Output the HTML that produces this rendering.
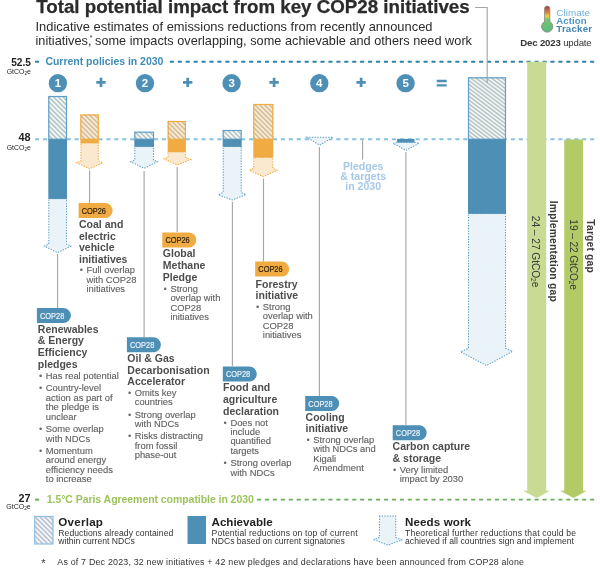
<!DOCTYPE html>
<html lang="en"><head><meta charset="utf-8"><title>Total potential impact from key COP28 initiatives</title>
<style>html,body{margin:0;padding:0;background:#fff}svg{display:block}text{font-family:'Liberation Sans', sans-serif}</style></head><body>
<svg width="600" height="570" viewBox="0 0 600 570">
<defs>
<linearGradient id="thermo" x1="0" y1="0" x2="0" y2="1"><stop offset="0.04" stop-color="#ad463d"/><stop offset="0.22" stop-color="#e0763a"/><stop offset="0.39" stop-color="#f1d23c"/><stop offset="0.52" stop-color="#74c570"/><stop offset="1" stop-color="#58bd7f"/></linearGradient>
</defs>
<rect width="600" height="570" fill="#fff"/>
<line x1="35" y1="61.7" x2="39.1" y2="61.7" stroke="#2f83a8" stroke-width="2"/>
<line x1="169.8" y1="61.7" x2="595" y2="61.7" stroke="#2f83a8" stroke-width="2" stroke-dasharray="4.1,3.83"/>
<line x1="35" y1="139.2" x2="595" y2="139.2" stroke="#86c2e2" stroke-width="2" stroke-dasharray="4.1,3.83"/>
<line x1="35" y1="499.6" x2="39.1" y2="499.6" stroke="#6aad5b" stroke-width="2"/>
<line x1="257.04" y1="499.6" x2="595" y2="499.6" stroke="#6aad5b" stroke-width="1.9" stroke-dasharray="4.1,3.83"/>
<path d="M527.2,61.7 H546.2 V490.8 H550.0 L536.7,498 L523.0,490.8 H527.2 Z" fill="#c8da94"/>
<path d="M564.2,139.6 H583 V490.8 H586.8 L573.6,498 L560.0,490.8 H564.2 Z" fill="#b2cb67"/>
<text x="36.2" y="13.4" font-size="17.7" font-weight="bold" fill="#2b2b2b" textLength="433.5" lengthAdjust="spacingAndGlyphs" stroke="#2b2b2b" stroke-width="0.25">Total potential impact from key COP28 initiatives</text>
<text x="35.5" y="30.6" font-size="12.6" fill="#2b2b2b" textLength="397" lengthAdjust="spacingAndGlyphs">Indicative estimates of emissions reductions from recently announced</text>
<text x="35.5" y="45.4" font-size="12.6" fill="#2b2b2b" textLength="436.5" lengthAdjust="spacingAndGlyphs"><tspan>initiatives,</tspan><tspan font-size="6.5" dy="-5.6" dx="-1.6">*</tspan><tspan dy="5.6" dx="-0.9"> some impacts overlapping, some achievable and others need work</tspan></text>
<path d="M475,7.5 H487.2 V83" fill="none" stroke="#a6a6a6" stroke-width="1.15"/>
<g>
<path d="M544.6,8.6 a2.6,2.6 0 0 1 5.2,0 V21.6 a5.6,5.6 0 1 1 -5.2,0 Z" fill="url(#thermo)" stroke="#8a8a8a" stroke-width="0.9"/>
</g>
<text x="556.3" y="15.9" font-size="9.9" fill="#72b2d8" textLength="33.7" lengthAdjust="spacing">Climate</text>
<text x="556.3" y="24.0" font-size="9.7" font-weight="bold" fill="#4d93c2" textLength="30.4" lengthAdjust="spacing">Action</text>
<text x="556.3" y="32.0" font-size="9.7" font-weight="bold" fill="#3f86b8" textLength="35.7" lengthAdjust="spacing">Tracker</text>
<text x="520.3" y="46.0" font-size="9.6" fill="#333" textLength="71.4" lengthAdjust="spacing"><tspan font-weight="bold">Dec 2023</tspan><tspan> update</tspan></text>
<text x="31" y="65.5" font-size="10.3" font-weight="bold" fill="#1f1f1f" text-anchor="end" textLength="19.8" lengthAdjust="spacingAndGlyphs">52.5</text>
<text x="31" y="73.6" font-size="7.2" fill="#262626" text-anchor="end" textLength="24.3" lengthAdjust="spacingAndGlyphs"><tspan>GtCO</tspan><tspan font-size="4.8" dy="1">2</tspan><tspan dy="-1">e</tspan></text>
<text x="30.5" y="141.4" font-size="10.3" font-weight="bold" fill="#1f1f1f" text-anchor="end" textLength="12.1" lengthAdjust="spacingAndGlyphs">48</text>
<text x="31" y="149.8" font-size="7.2" fill="#262626" text-anchor="end" textLength="24.3" lengthAdjust="spacingAndGlyphs"><tspan>GtCO</tspan><tspan font-size="4.8" dy="1">2</tspan><tspan dy="-1">e</tspan></text>
<text x="30.5" y="501.7" font-size="10.3" font-weight="bold" fill="#1f1f1f" text-anchor="end" textLength="12.1" lengthAdjust="spacingAndGlyphs">27</text>
<text x="30.6" y="509.2" font-size="7.2" fill="#262626" text-anchor="end" textLength="24.3" lengthAdjust="spacingAndGlyphs"><tspan>GtCO</tspan><tspan font-size="4.8" dy="1">2</tspan><tspan dy="-1">e</tspan></text>
<text x="45.4" y="65.2" font-size="10.5" font-weight="bold" fill="#3f8cb8" textLength="118" lengthAdjust="spacing">Current policies in 2030</text>
<text x="46.8" y="503.2" font-size="10.5" font-weight="bold" fill="#9cc45c" textLength="207" lengthAdjust="spacing">1.5°C Paris Agreement compatible in 2030</text>
<circle cx="57.9" cy="83.2" r="9.15" fill="#4e8fb5"/>
<text x="57.9" y="87.3" font-size="11.5" font-weight="bold" fill="#fff" text-anchor="middle">1</text>
<circle cx="145" cy="83.2" r="9.15" fill="#4e8fb5"/>
<text x="145" y="87.3" font-size="11.5" font-weight="bold" fill="#fff" text-anchor="middle">2</text>
<circle cx="231.6" cy="83.2" r="9.15" fill="#4e8fb5"/>
<text x="231.6" y="87.3" font-size="11.5" font-weight="bold" fill="#fff" text-anchor="middle">3</text>
<circle cx="319.3" cy="83.2" r="9.15" fill="#4e8fb5"/>
<text x="319.3" y="87.3" font-size="11.5" font-weight="bold" fill="#fff" text-anchor="middle">4</text>
<circle cx="405.6" cy="83.2" r="9.15" fill="#4e8fb5"/>
<text x="405.6" y="87.3" font-size="11.5" font-weight="bold" fill="#fff" text-anchor="middle">5</text>
<path d="M96.3,82.4 H105.7 M101,77.7 V87.1" stroke="#4e8fb5" stroke-width="2.7" fill="none"/>
<path d="M183.0,82.4 H192.39999999999998 M187.7,77.7 V87.1" stroke="#4e8fb5" stroke-width="2.7" fill="none"/>
<path d="M269.40000000000003,82.4 H278.8 M274.1,77.7 V87.1" stroke="#4e8fb5" stroke-width="2.7" fill="none"/>
<path d="M356.40000000000003,82.4 H365.8 M361.1,77.7 V87.1" stroke="#4e8fb5" stroke-width="2.7" fill="none"/>
<path d="M436.7,81 H446.7 M436.7,85.4 H446.7" stroke="#4e8fb5" stroke-width="2.3" fill="none"/>
<clipPath id="c1"><rect x="48.3" y="96" width="18.7" height="43.2"/></clipPath>
<rect x="48.3" y="96" width="18.7" height="43.2" fill="#f0f7f8"/>
<path d="M47.3,71.5 l20.7,20.7 M47.3,76.3 l20.7,20.7 M47.3,81.1 l20.7,20.7 M47.3,85.9 l20.7,20.7 M47.3,90.7 l20.7,20.7 M47.3,95.5 l20.7,20.7 M47.3,100.3 l20.7,20.7 M47.3,105.1 l20.7,20.7 M47.3,109.9 l20.7,20.7 M47.3,114.7 l20.7,20.7 M47.3,119.5 l20.7,20.7 M47.3,124.3 l20.7,20.7 M47.3,129.1 l20.7,20.7 M47.3,133.9 l20.7,20.7 M47.3,138.7 l20.7,20.7" stroke="#b9c5c2" stroke-width="1.55" fill="none" clip-path="url(#c1)"/>
<rect x="48.8" y="96.5" width="17.7" height="42.7" fill="none" stroke="#609fc8" stroke-width="1.2"/>
<rect x="48.3" y="139.2" width="18.700000000000003" height="60.20000000000002" fill="#4e8fb5"/>
<path d="M48.8,199.4 L48.8,244.1 L44.3,246.1 L57.65,252.7 L71,246.1 L66.5,244.1 L66.5,199.4" fill="#eaf3f7" stroke="#609fc8" stroke-width="1.05" stroke-dasharray="1.35,1.35"/>
<line x1="48.3" y1="199.4" x2="67" y2="199.4" stroke="#eaf3f7" stroke-width="1" stroke-dasharray="1.35,1.35"/>
<line x1="57.6" y1="254" x2="57.6" y2="308" stroke="#a6a6a6" stroke-width="1.15"/>
<clipPath id="c2"><rect x="80.4" y="114.5" width="18.4" height="24.7"/></clipPath>
<rect x="80.4" y="114.5" width="18.4" height="24.7" fill="#fbead0"/>
<path d="M79.4,90.3 l20.4,20.4 M79.4,95.1 l20.4,20.4 M79.4,99.9 l20.4,20.4 M79.4,104.7 l20.4,20.4 M79.4,109.5 l20.4,20.4 M79.4,114.3 l20.4,20.4 M79.4,119.1 l20.4,20.4 M79.4,123.9 l20.4,20.4 M79.4,128.7 l20.4,20.4 M79.4,133.5 l20.4,20.4 M79.4,138.3 l20.4,20.4" stroke="#d0bea0" stroke-width="1.55" fill="none" clip-path="url(#c2)"/>
<rect x="80.9" y="115.0" width="17.4" height="24.2" fill="none" stroke="#f0ab43" stroke-width="1.2"/>
<rect x="80.4" y="139.2" width="18.39999999999999" height="4.600000000000023" fill="#f0ab43"/>
<path d="M80.9,143.8 L80.9,160.8 L76.5,162.75 L89.65,168.7 L102.8,162.8 L98.3,160.8 L98.3,143.8" fill="#fbe9cf" stroke="#f0ab43" stroke-width="1.05" stroke-dasharray="1.35,1.35"/>
<line x1="80.4" y1="143.8" x2="98.8" y2="143.8" stroke="#fbe9cf" stroke-width="1" stroke-dasharray="1.35,1.35"/>
<line x1="89.6" y1="170.5" x2="89.6" y2="203" stroke="#a6a6a6" stroke-width="1.15"/>
<clipPath id="c3"><rect x="134.3" y="131.7" width="19.7" height="7.5"/></clipPath>
<rect x="134.3" y="131.7" width="19.7" height="7.5" fill="#f0f7f8"/>
<path d="M133.3,106.2 l21.7,21.7 M133.3,111.0 l21.7,21.7 M133.3,115.8 l21.7,21.7 M133.3,120.6 l21.7,21.7 M133.3,125.4 l21.7,21.7 M133.3,130.2 l21.7,21.7 M133.3,135.0 l21.7,21.7 M133.3,139.8 l21.7,21.7" stroke="#b9c5c2" stroke-width="1.55" fill="none" clip-path="url(#c3)"/>
<rect x="134.8" y="132.2" width="18.7" height="7.0" fill="none" stroke="#609fc8" stroke-width="1.2"/>
<rect x="134.3" y="139.2" width="19.69999999999999" height="8.100000000000023" fill="#4e8fb5"/>
<path d="M134.8,147.3 L134.8,160 L130.7,161.8 L144.1,168.3 L157.5,161.75 L153.5,160 L153.5,147.3" fill="#eaf3f7" stroke="#609fc8" stroke-width="1.05" stroke-dasharray="1.35,1.35"/>
<line x1="134.3" y1="147.3" x2="154" y2="147.3" stroke="#eaf3f7" stroke-width="1" stroke-dasharray="1.35,1.35"/>
<line x1="144.1" y1="171" x2="144.1" y2="337" stroke="#a6a6a6" stroke-width="1.15"/>
<clipPath id="c4"><rect x="167.7" y="121" width="18.2" height="18.2"/></clipPath>
<rect x="167.7" y="121" width="18.2" height="18.2" fill="#fbead0"/>
<path d="M166.7,97.0 l20.2,20.2 M166.7,101.8 l20.2,20.2 M166.7,106.6 l20.2,20.2 M166.7,111.4 l20.2,20.2 M166.7,116.2 l20.2,20.2 M166.7,121.0 l20.2,20.2 M166.7,125.8 l20.2,20.2 M166.7,130.6 l20.2,20.2 M166.7,135.4 l20.2,20.2 M166.7,140.2 l20.2,20.2" stroke="#d0bea0" stroke-width="1.55" fill="none" clip-path="url(#c4)"/>
<rect x="168.2" y="121.5" width="17.2" height="17.7" fill="none" stroke="#f0ab43" stroke-width="1.2"/>
<rect x="167.7" y="139.2" width="18.200000000000017" height="13.5" fill="#f0ab43"/>
<path d="M168.2,152.7 L168.2,157 L163.8,158.95 L177.25,164.9 L190.7,159.4 L185.4,157 L185.4,152.7" fill="#fbe9cf" stroke="#f0ab43" stroke-width="1.05" stroke-dasharray="1.35,1.35"/>
<line x1="167.7" y1="152.7" x2="185.9" y2="152.7" stroke="#fbe9cf" stroke-width="1" stroke-dasharray="1.35,1.35"/>
<line x1="177.2" y1="167" x2="177.2" y2="232" stroke="#a6a6a6" stroke-width="1.15"/>
<clipPath id="c5"><rect x="222.7" y="130" width="19.0" height="9.2"/></clipPath>
<rect x="222.7" y="130" width="19.0" height="9.2" fill="#f0f7f8"/>
<path d="M221.7,105.2 l21.0,21.0 M221.7,110.0 l21.0,21.0 M221.7,114.8 l21.0,21.0 M221.7,119.6 l21.0,21.0 M221.7,124.4 l21.0,21.0 M221.7,129.2 l21.0,21.0 M221.7,134.0 l21.0,21.0 M221.7,138.8 l21.0,21.0" stroke="#b9c5c2" stroke-width="1.55" fill="none" clip-path="url(#c5)"/>
<rect x="223.2" y="130.5" width="18.0" height="8.7" fill="none" stroke="#609fc8" stroke-width="1.2"/>
<rect x="222.7" y="139.2" width="19.0" height="8.100000000000023" fill="#4e8fb5"/>
<path d="M223.2,147.3 L223.2,192.5 L218.3,194.7 L232.15,200 L246,194.65 L241.2,192.5 L241.2,147.3" fill="#eaf3f7" stroke="#609fc8" stroke-width="1.05" stroke-dasharray="1.35,1.35"/>
<line x1="222.7" y1="147.3" x2="241.7" y2="147.3" stroke="#eaf3f7" stroke-width="1" stroke-dasharray="1.35,1.35"/>
<line x1="232.4" y1="202" x2="232.4" y2="366" stroke="#a6a6a6" stroke-width="1.15"/>
<clipPath id="c6"><rect x="253.3" y="104" width="20.0" height="35.2"/></clipPath>
<rect x="253.3" y="104" width="20.0" height="35.2" fill="#fbead0"/>
<path d="M252.3,78.2 l22.0,22.0 M252.3,83.0 l22.0,22.0 M252.3,87.8 l22.0,22.0 M252.3,92.6 l22.0,22.0 M252.3,97.4 l22.0,22.0 M252.3,102.2 l22.0,22.0 M252.3,107.0 l22.0,22.0 M252.3,111.8 l22.0,22.0 M252.3,116.6 l22.0,22.0 M252.3,121.4 l22.0,22.0 M252.3,126.2 l22.0,22.0 M252.3,131.0 l22.0,22.0 M252.3,135.8 l22.0,22.0 M252.3,140.6 l22.0,22.0" stroke="#d0bea0" stroke-width="1.55" fill="none" clip-path="url(#c6)"/>
<rect x="253.8" y="104.5" width="19.0" height="34.7" fill="none" stroke="#f0ab43" stroke-width="1.2"/>
<rect x="253.3" y="139.2" width="20.0" height="18.80000000000001" fill="#f0ab43"/>
<path d="M253.8,158 L253.8,168.3 L249.3,170.3 L263.3,176.7 L277.3,170.3 L272.8,168.3 L272.8,158" fill="#fbe9cf" stroke="#f0ab43" stroke-width="1.05" stroke-dasharray="1.35,1.35"/>
<line x1="253.3" y1="158" x2="273.3" y2="158" stroke="#fbe9cf" stroke-width="1" stroke-dasharray="1.35,1.35"/>
<line x1="263.5" y1="178.5" x2="263.5" y2="261.5" stroke="#a6a6a6" stroke-width="1.15"/>
<path d="M306.5,137.2 H333 L319.6,145.2 Z" fill="#eaf3f7" stroke="#609fc8" stroke-width="1.05" stroke-dasharray="1.35,1.35"/>
<line x1="319.4" y1="147" x2="319.4" y2="396" stroke="#a6a6a6" stroke-width="1.15"/>
<line x1="362.6" y1="140.5" x2="362.6" y2="159.5" stroke="#a6a6a6" stroke-width="1.15"/>
<text x="363.2" y="169.9" font-size="10.6" font-weight="bold" fill="#a6c8e9" text-anchor="middle">Pledges</text>
<text x="363.2" y="180.05" font-size="10.6" font-weight="bold" fill="#a6c8e9" text-anchor="middle">&amp; targets</text>
<text x="363.2" y="190.2" font-size="10.6" font-weight="bold" fill="#a6c8e9" text-anchor="middle">in 2030</text>
<path d="M397,142.4 L393,143.2 L405.9,150.4 L419.3,143.2 L414.5,142.4 Z" fill="#eaf3f7" stroke="#609fc8" stroke-width="1.05" stroke-dasharray="1.35,1.35"/>
<rect x="397" y="138.9" width="17.5" height="3.5999999999999943" fill="#4e8fb5"/>
<line x1="405.9" y1="152" x2="405.9" y2="425" stroke="#a6a6a6" stroke-width="1.15"/>
<clipPath id="c7"><rect x="468" y="77.3" width="38" height="61.9"/></clipPath>
<rect x="468" y="77.3" width="38" height="61.9" fill="#f0f7f8"/>
<path d="M467,44.01 l40,30.14 M467,47.91 l40,30.14 M467,51.81 l40,30.14 M467,55.71 l40,30.14 M467,59.61 l40,30.14 M467,63.51 l40,30.14 M467,67.41 l40,30.14 M467,71.31 l40,30.14 M467,75.21 l40,30.14 M467,79.11 l40,30.14 M467,83.01 l40,30.14 M467,86.91 l40,30.14 M467,90.81 l40,30.14 M467,94.71 l40,30.14 M467,98.61 l40,30.14 M467,102.51 l40,30.14 M467,106.41 l40,30.14 M467,110.31 l40,30.14 M467,114.21 l40,30.14 M467,118.11 l40,30.14 M467,122.01 l40,30.14 M467,125.91 l40,30.14 M467,129.81 l40,30.14 M467,133.71 l40,30.14 M467,137.61 l40,30.14 M467,141.51 l40,30.14" stroke="#b9c5c2" stroke-width="1.5" fill="none" clip-path="url(#c7)"/>
<rect x="468.5" y="77.8" width="37" height="61.4" fill="none" stroke="#609fc8" stroke-width="1.2"/>
<line x1="487.2" y1="77" x2="487.2" y2="83.2" stroke="#a6a6a6" stroke-width="1.15"/>
<rect x="468" y="139.2" width="38" height="75.10000000000002" fill="#4e8fb5"/>
<path d="M468.5,214.3 L468.5,348.2 L460.6,351.9 L486.55,365.6 L512.5,351.45 L505.5,348.2 L505.5,214.3" fill="#eaf3f7" stroke="#609fc8" stroke-width="1.05" stroke-dasharray="1.35,1.35"/>
<line x1="468" y1="214.3" x2="506" y2="214.3" stroke="#eaf3f7" stroke-width="1" stroke-dasharray="1.35,1.35"/>
<g transform="translate(549.6,251.2) rotate(90)">
<text x="0" y="0" font-size="10.3" font-weight="bold" fill="#3a3a3a" text-anchor="middle" textLength="101" lengthAdjust="spacing">Implementation gap</text>
</g>
<g transform="translate(531.9,251.6) rotate(90)">
<text x="0" y="0" font-size="10.2" fill="#3a3a3a" text-anchor="middle" textLength="71.5" lengthAdjust="spacing"><tspan>24 – 27 GtCO</tspan><tspan font-size="6.5" dy="1.2">2</tspan><tspan dy="-1.2">e</tspan></text>
</g>
<g transform="translate(587.2,246) rotate(90)">
<text x="0" y="0" font-size="10.3" font-weight="bold" fill="#3a3a3a" text-anchor="middle" textLength="53.4" lengthAdjust="spacing">Target gap</text>
</g>
<g transform="translate(570.2,254.7) rotate(90)">
<text x="0" y="0" font-size="10.2" fill="#3a3a3a" text-anchor="middle" textLength="70.7" lengthAdjust="spacing"><tspan>19 – 22 GtCO</tspan><tspan font-size="6.5" dy="1.2">2</tspan><tspan dy="-1.2">e</tspan></text>
</g>
<path d="M78.6,203.1 H105.1 A7.5,7.5 0 0 1 105.1,218.1 H78.6 Z" fill="#f0ab43"/>
<text x="81.69999999999999" y="213.6" font-size="9.1" fill="#2e2210" textLength="24.3" lengthAdjust="spacingAndGlyphs" stroke="#2e2210" stroke-width="0.2">COP26</text>
<text x="79" y="227.9" font-size="10.5" font-weight="bold" fill="#4d4d4d">Coal and</text>
<text x="79" y="239.55" font-size="10.5" font-weight="bold" fill="#4d4d4d">electric</text>
<text x="79" y="251.2" font-size="10.5" font-weight="bold" fill="#4d4d4d">vehicle</text>
<text x="79" y="262.85" font-size="10.5" font-weight="bold" fill="#4d4d4d">initiatives</text>
<text x="79.69999999999999" y="273.4" font-size="9.4" fill="#6b6b6b">•</text>
<text x="86.5" y="273.4" font-size="9.4" fill="#606060" stroke="#606060" stroke-width="0.12">Full overlap</text>
<text x="86.5" y="282.85" font-size="9.4" fill="#606060" stroke="#606060" stroke-width="0.12">with COP28</text>
<text x="86.5" y="292.3" font-size="9.4" fill="#606060" stroke="#606060" stroke-width="0.12">initiatives</text>
<path d="M36.9,308 H63.400000000000006 A7.5,7.5 0 0 1 63.400000000000006,323 H36.9 Z" fill="#4e8fb5"/>
<text x="40.0" y="318.5" font-size="9.1" fill="#e9f2f8" textLength="24.3" lengthAdjust="spacingAndGlyphs" stroke="#e9f2f8" stroke-width="0.2">COP28</text>
<text x="37.8" y="332.6" font-size="10.5" font-weight="bold" fill="#4d4d4d">Renewables</text>
<text x="37.8" y="344.25" font-size="10.5" font-weight="bold" fill="#4d4d4d">&amp; Energy</text>
<text x="37.8" y="355.9" font-size="10.5" font-weight="bold" fill="#4d4d4d">Efficiency</text>
<text x="37.8" y="367.55" font-size="10.5" font-weight="bold" fill="#4d4d4d">pledges</text>
<text x="39.0" y="379.1" font-size="9.4" fill="#6b6b6b">•</text>
<text x="45.8" y="379.1" font-size="9.4" fill="#606060" stroke="#606060" stroke-width="0.12">Has real potential</text>
<text x="39.0" y="391.45" font-size="9.4" fill="#6b6b6b">•</text>
<text x="45.8" y="391.45" font-size="9.4" fill="#606060" stroke="#606060" stroke-width="0.12">Country-level</text>
<text x="45.8" y="400.9" font-size="9.4" fill="#606060" stroke="#606060" stroke-width="0.12">action as part of</text>
<text x="45.8" y="410.35" font-size="9.4" fill="#606060" stroke="#606060" stroke-width="0.12">the pledge is</text>
<text x="45.8" y="419.8" font-size="9.4" fill="#606060" stroke="#606060" stroke-width="0.12">unclear</text>
<text x="39.0" y="432.15" font-size="9.4" fill="#6b6b6b">•</text>
<text x="45.8" y="432.15" font-size="9.4" fill="#606060" stroke="#606060" stroke-width="0.12">Some overlap</text>
<text x="45.8" y="441.6" font-size="9.4" fill="#606060" stroke="#606060" stroke-width="0.12">with NDCs</text>
<text x="39.0" y="453.95" font-size="9.4" fill="#6b6b6b">•</text>
<text x="45.8" y="453.95" font-size="9.4" fill="#606060" stroke="#606060" stroke-width="0.12">Momentum</text>
<text x="45.8" y="463.4" font-size="9.4" fill="#606060" stroke="#606060" stroke-width="0.12">around energy</text>
<text x="45.8" y="472.85" font-size="9.4" fill="#606060" stroke="#606060" stroke-width="0.12">efficiency needs</text>
<text x="45.8" y="482.3" font-size="9.4" fill="#606060" stroke="#606060" stroke-width="0.12">to increase</text>
<path d="M162.3,232.4 H188.8 A7.5,7.5 0 0 1 188.8,247.4 H162.3 Z" fill="#f0ab43"/>
<text x="165.4" y="242.9" font-size="9.1" fill="#2e2210" textLength="24.3" lengthAdjust="spacingAndGlyphs" stroke="#2e2210" stroke-width="0.2">COP26</text>
<text x="162.8" y="257.4" font-size="10.5" font-weight="bold" fill="#4d4d4d">Global</text>
<text x="162.8" y="269.05" font-size="10.5" font-weight="bold" fill="#4d4d4d">Methane</text>
<text x="162.8" y="280.7" font-size="10.5" font-weight="bold" fill="#4d4d4d">Pledge</text>
<text x="163.6" y="291.8" font-size="9.4" fill="#6b6b6b">•</text>
<text x="170.4" y="291.8" font-size="9.4" fill="#606060" stroke="#606060" stroke-width="0.12">Strong</text>
<text x="170.4" y="301.25" font-size="9.4" fill="#606060" stroke="#606060" stroke-width="0.12">overlap with</text>
<text x="170.4" y="310.7" font-size="9.4" fill="#606060" stroke="#606060" stroke-width="0.12">COP28</text>
<text x="170.4" y="320.15" font-size="9.4" fill="#606060" stroke="#606060" stroke-width="0.12">initiatives</text>
<path d="M126.9,337.3 H153.4 A7.5,7.5 0 0 1 153.4,352.3 H126.9 Z" fill="#4e8fb5"/>
<text x="130.0" y="347.8" font-size="9.1" fill="#e9f2f8" textLength="24.3" lengthAdjust="spacingAndGlyphs" stroke="#e9f2f8" stroke-width="0.2">COP28</text>
<text x="127.3" y="361.9" font-size="10.5" font-weight="bold" fill="#4d4d4d">Oil &amp; Gas</text>
<text x="127.3" y="373.55" font-size="10.5" font-weight="bold" fill="#4d4d4d">Decarbonisation</text>
<text x="127.3" y="385.2" font-size="10.5" font-weight="bold" fill="#4d4d4d">Accelerator</text>
<text x="127.89999999999999" y="395.8" font-size="9.4" fill="#6b6b6b">•</text>
<text x="134.7" y="395.8" font-size="9.4" fill="#606060" stroke="#606060" stroke-width="0.12">Omits key</text>
<text x="134.7" y="405.25" font-size="9.4" fill="#606060" stroke="#606060" stroke-width="0.12">countries</text>
<text x="127.89999999999999" y="417.6" font-size="9.4" fill="#6b6b6b">•</text>
<text x="134.7" y="417.6" font-size="9.4" fill="#606060" stroke="#606060" stroke-width="0.12">Strong overlap</text>
<text x="134.7" y="427.05" font-size="9.4" fill="#606060" stroke="#606060" stroke-width="0.12">with NDCs</text>
<text x="127.89999999999999" y="439.4" font-size="9.4" fill="#6b6b6b">•</text>
<text x="134.7" y="439.4" font-size="9.4" fill="#606060" stroke="#606060" stroke-width="0.12">Risks distracting</text>
<text x="134.7" y="448.85" font-size="9.4" fill="#606060" stroke="#606060" stroke-width="0.12">from fossil</text>
<text x="134.7" y="458.3" font-size="9.4" fill="#606060" stroke="#606060" stroke-width="0.12">phase-out</text>
<path d="M255.2,261.6 H281.7 A7.5,7.5 0 0 1 281.7,276.6 H255.2 Z" fill="#f0ab43"/>
<text x="258.3" y="272.1" font-size="9.1" fill="#2e2210" textLength="24.3" lengthAdjust="spacingAndGlyphs" stroke="#2e2210" stroke-width="0.2">COP26</text>
<text x="255.6" y="287.6" font-size="10.5" font-weight="bold" fill="#4d4d4d">Forestry</text>
<text x="255.6" y="299.25" font-size="10.5" font-weight="bold" fill="#4d4d4d">initiative</text>
<text x="256.0" y="309.7" font-size="9.4" fill="#6b6b6b">•</text>
<text x="262.8" y="309.7" font-size="9.4" fill="#606060" stroke="#606060" stroke-width="0.12">Strong</text>
<text x="262.8" y="319.15" font-size="9.4" fill="#606060" stroke="#606060" stroke-width="0.12">overlap with</text>
<text x="262.8" y="328.6" font-size="9.4" fill="#606060" stroke="#606060" stroke-width="0.12">COP28</text>
<text x="262.8" y="338.05" font-size="9.4" fill="#606060" stroke="#606060" stroke-width="0.12">initiatives</text>
<path d="M222.8,366.5 H249.3 A7.5,7.5 0 0 1 249.3,381.5 H222.8 Z" fill="#4e8fb5"/>
<text x="225.9" y="377.0" font-size="9.1" fill="#e9f2f8" textLength="24.3" lengthAdjust="spacingAndGlyphs" stroke="#e9f2f8" stroke-width="0.2">COP28</text>
<text x="223" y="391.4" font-size="10.5" font-weight="bold" fill="#4d4d4d">Food and</text>
<text x="223" y="403.05" font-size="10.5" font-weight="bold" fill="#4d4d4d">agriculture</text>
<text x="223" y="414.7" font-size="10.5" font-weight="bold" fill="#4d4d4d">declaration</text>
<text x="223.6" y="425.5" font-size="9.4" fill="#6b6b6b">•</text>
<text x="230.4" y="425.5" font-size="9.4" fill="#606060" stroke="#606060" stroke-width="0.12">Does not</text>
<text x="230.4" y="434.95" font-size="9.4" fill="#606060" stroke="#606060" stroke-width="0.12">include</text>
<text x="230.4" y="444.4" font-size="9.4" fill="#606060" stroke="#606060" stroke-width="0.12">quantified</text>
<text x="230.4" y="453.85" font-size="9.4" fill="#606060" stroke="#606060" stroke-width="0.12">targets</text>
<text x="223.6" y="466.2" font-size="9.4" fill="#6b6b6b">•</text>
<text x="230.4" y="466.2" font-size="9.4" fill="#606060" stroke="#606060" stroke-width="0.12">Strong overlap</text>
<text x="230.4" y="475.65" font-size="9.4" fill="#606060" stroke="#606060" stroke-width="0.12">with NDCs</text>
<path d="M305.2,396 H331.7 A7.5,7.5 0 0 1 331.7,411 H305.2 Z" fill="#4e8fb5"/>
<text x="308.3" y="406.5" font-size="9.1" fill="#e9f2f8" textLength="24.3" lengthAdjust="spacingAndGlyphs" stroke="#e9f2f8" stroke-width="0.2">COP28</text>
<text x="305.6" y="420.7" font-size="10.5" font-weight="bold" fill="#4d4d4d">Cooling</text>
<text x="305.6" y="432.35" font-size="10.5" font-weight="bold" fill="#4d4d4d">initiative</text>
<text x="306.40000000000003" y="443" font-size="9.4" fill="#6b6b6b">•</text>
<text x="313.2" y="443" font-size="9.4" fill="#606060" stroke="#606060" stroke-width="0.12">Strong overlap</text>
<text x="313.2" y="452.45" font-size="9.4" fill="#606060" stroke="#606060" stroke-width="0.12">with NDCs and</text>
<text x="313.2" y="461.9" font-size="9.4" fill="#606060" stroke="#606060" stroke-width="0.12">Kigali</text>
<text x="313.2" y="471.35" font-size="9.4" fill="#606060" stroke="#606060" stroke-width="0.12">Amendment</text>
<path d="M392.7,425.3 H419.2 A7.5,7.5 0 0 1 419.2,440.3 H392.7 Z" fill="#4e8fb5"/>
<text x="395.8" y="435.8" font-size="9.1" fill="#e9f2f8" textLength="24.3" lengthAdjust="spacingAndGlyphs" stroke="#e9f2f8" stroke-width="0.2">COP28</text>
<text x="392.6" y="449.9" font-size="10.5" font-weight="bold" fill="#4d4d4d">Carbon capture</text>
<text x="392.6" y="461.55" font-size="10.5" font-weight="bold" fill="#4d4d4d">&amp; storage</text>
<text x="392.90000000000003" y="472.8" font-size="9.4" fill="#6b6b6b">•</text>
<text x="399.7" y="472.8" font-size="9.4" fill="#606060" stroke="#606060" stroke-width="0.12">Very limited</text>
<text x="399.7" y="482.25" font-size="9.4" fill="#606060" stroke="#606060" stroke-width="0.12">impact by 2030</text>
<clipPath id="c8"><rect x="34.2" y="516" width="19.2" height="28"/></clipPath>
<rect x="34.2" y="516" width="19.2" height="28" fill="#f4f6fa"/>
<path d="M33.2,491.0 l21.2,21.2 M33.2,495.8 l21.2,21.2 M33.2,500.6 l21.2,21.2 M33.2,505.4 l21.2,21.2 M33.2,510.2 l21.2,21.2 M33.2,515.0 l21.2,21.2 M33.2,519.8 l21.2,21.2 M33.2,524.6 l21.2,21.2 M33.2,529.4 l21.2,21.2 M33.2,534.2 l21.2,21.2 M33.2,539.0 l21.2,21.2 M33.2,543.8 l21.2,21.2" stroke="#b9c1cf" stroke-width="1.55" fill="none" clip-path="url(#c8)"/>
<rect x="34.7" y="516.5" width="18.2" height="27.5" fill="none" stroke="#8fc0e2" stroke-width="1.2"/>
<text x="58.3" y="526.2" font-size="11.6" font-weight="bold" fill="#222" textLength="44.6" lengthAdjust="spacing">Overlap</text>
<text x="58.3" y="536.2" font-size="8.6" fill="#333" textLength="115" lengthAdjust="spacing">Reductions already contained</text>
<text x="58.3" y="543.8" font-size="8.6" fill="#333">within current NDCs</text>
<rect x="187.5" y="516" width="18.5" height="28" fill="#4e8fb5"/>
<text x="211.6" y="526.2" font-size="11.6" font-weight="bold" fill="#222" textLength="61" lengthAdjust="spacing">Achievable</text>
<text x="211.6" y="536.2" font-size="8.6" fill="#333" textLength="146" lengthAdjust="spacing">Potential reductions on top of current</text>
<text x="211.6" y="543.8" font-size="8.6" fill="#333" textLength="133.3" lengthAdjust="spacing">NDCs based on current signatories</text>
<path d="M379.5,516 L379.5,537.3 L374,539.8 L387.85,545 L401.7,540.05 L395.7,537.3 L395.7,516" fill="#eaf3f7" stroke="#609fc8" stroke-width="1.05" stroke-dasharray="1.35,1.35"/>
<line x1="379" y1="516" x2="396.2" y2="516" stroke="#eaf3f7" stroke-width="1" stroke-dasharray="1.35,1.35"/>
<line x1="379" y1="516" x2="396.2" y2="516" stroke="#609fc8" stroke-width="1.05" stroke-dasharray="1.35,1.35"/>
<text x="405" y="526.2" font-size="11.6" font-weight="bold" fill="#222" textLength="66" lengthAdjust="spacing">Needs work</text>
<text x="405" y="536.2" font-size="8.6" fill="#333" textLength="171" lengthAdjust="spacing">Theoretical further reductions that could be</text>
<text x="405" y="543.8" font-size="8.6" fill="#333" textLength="169" lengthAdjust="spacing">achieved if all countries sign and implement</text>
<text x="41.2" y="566.6" font-size="11" fill="#333">*</text>
<text x="57.3" y="564.9" font-size="8.9" fill="#333" textLength="466.7" lengthAdjust="spacing">As of 7 Dec 2023, 32 new initiatives + 42 new pledges and declarations have been announced from COP28 alone</text>
</svg></body></html>
